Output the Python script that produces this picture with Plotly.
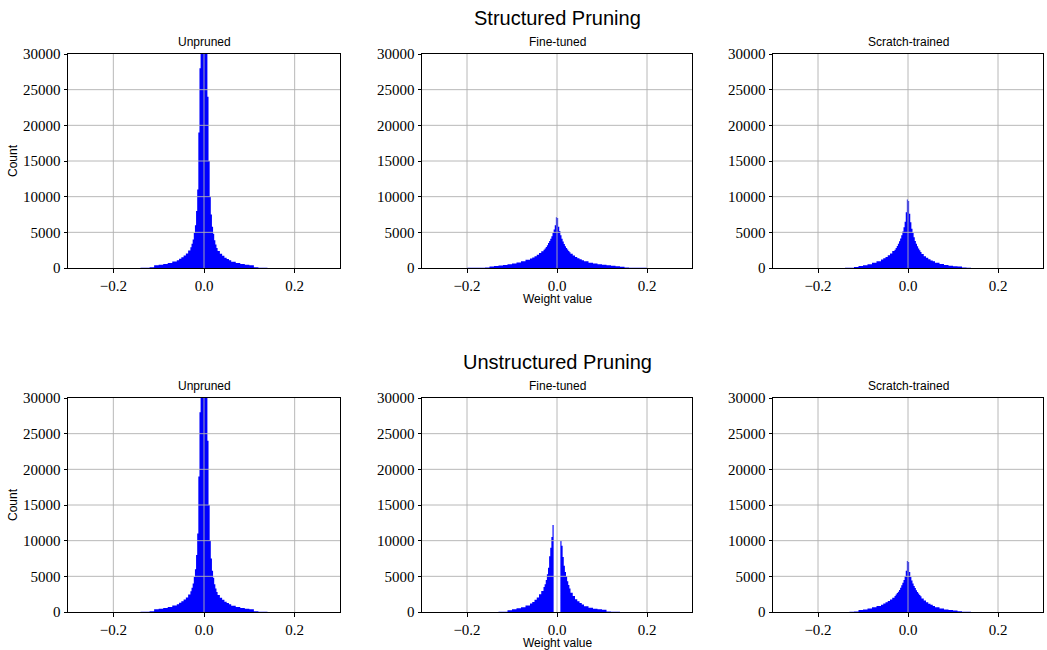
import plotly.graph_objects as go

# ---------------- data ----------------
bin_edges = [-0.26, -0.20, -0.16, -0.15, -0.14, -0.13, -0.12, -0.11, -0.10, -0.09,
             -0.08, -0.07, -0.06, -0.055, -0.05, -0.045, -0.04, -0.035, -0.03, -0.0275,
             -0.025, -0.0225, -0.02, -0.0175, -0.015, -0.0125, -0.01, -0.0075, -0.005, -0.0025,
             0.0,
             0.0025, 0.005, 0.0075, 0.01, 0.0125, 0.015, 0.0175, 0.02, 0.0225, 0.025,
             0.0275, 0.03, 0.035, 0.04, 0.045, 0.05, 0.055, 0.06, 0.07, 0.08,
             0.09, 0.10, 0.11, 0.12, 0.13, 0.14, 0.15, 0.16, 0.20, 0.26]

unpruned_counts = [3, 5, 8, 10, 20, 40, 110, 380, 460, 570, 710, 900, 1100, 1280, 1500,
                   1750, 2050, 2450, 2900, 3400, 4000, 4900, 6000, 8000, 11000, 19000, 28000, 40000, 50000, 60000,
                   60000, 50000, 38000, 24000, 15000, 10000, 7500, 5800, 4800, 3900, 3300, 2800, 2400, 2000, 1700,
                   1450, 1250, 1080, 880, 700, 560, 450, 370, 100, 40, 20, 10, 8, 5, 3]

struct_finetuned_counts = [10, 25, 60, 220, 280, 350, 430, 530, 640, 780, 950, 1150, 1330, 1480, 1650,
                           1850, 2100, 2350, 2550, 2750, 2950, 3200, 3500, 3800, 4100, 4450, 4900, 5400, 6000, 7100,
                           7000, 5800, 5200, 4600, 4100, 3700, 3350, 3050, 2800, 2600, 2400, 2200, 2000, 1750, 1550,
                           1380, 1230, 1100, 930, 750, 620, 520, 440, 370, 300, 240, 180, 60, 25, 10]

struct_scratch_counts = [2, 3, 5, 10, 20, 40, 150, 290, 390, 530, 720, 950, 1180, 1350, 1550,
                         1780, 2050, 2400, 2550, 2800, 3100, 3400, 3750, 4150, 4600, 5100, 5700, 6500, 7800, 9600,
                         9400, 7600, 6400, 5500, 4900, 4300, 3800, 3400, 3050, 2750, 2500, 2250, 1950, 1650, 1420,
                         1220, 1060, 930, 750, 560, 430, 330, 260, 200, 80, 30, 15, 8, 4, 2]

unstruct_finetuned_counts = [2, 4, 6, 8, 12, 25, 50, 250, 400, 530, 680, 900, 1180, 1400, 1700,
                             2050, 2500, 2950, 3500, 3900, 4500, 5300, 6200, 7800, 9000, 10500, 12200, 0, 0, 0,
                             0, 0, 0, 9950, 9300, 7700, 6500, 5600, 5000, 4300, 3800, 3300, 2700, 2250, 1800,
                             1500, 1250, 1050, 800, 600, 470, 380, 310, 80, 40, 20, 10, 6, 4, 2]

unstruct_scratch_counts = [2, 4, 6, 8, 15, 30, 60, 270, 360, 480, 650, 850, 1030, 1180, 1350,
                           1550, 1750, 2000, 2250, 2450, 2650, 2850, 3100, 3400, 3750, 4100, 4500, 5000, 5800, 7150,
                           7000, 5600, 4900, 4400, 4000, 3650, 3350, 3050, 2800, 2600, 2400, 2200, 1900, 1620, 1380,
                           1170, 1000, 850, 650, 480, 360, 280, 220, 120, 40, 20, 10, 8, 5, 3]

row_titles = ["Structured Pruning", "Unstructured Pruning"]
panel_titles = ["Unpruned", "Fine-tuned", "Scratch-trained"]
x_tick_vals = [-0.2, 0.0, 0.2]
x_tick_text = ["\u22120.2", "0.0", "0.2"]
y_tick_vals = [0, 5000, 10000, 15000, 20000, 25000, 30000]
y_tick_text = ["0", "5000", "10000", "15000", "20000", "25000", "30000"]

panels = [
    [unpruned_counts, struct_finetuned_counts, struct_scratch_counts],
    [unpruned_counts, unstruct_finetuned_counts, unstruct_scratch_counts],
]

# ---------------- layout geometry (pixels) ----------------
W, H = 1047, 650
col_px = [(68, 340), (422, 692), (773, 1043)]
row_px = [(54, 268), (398, 612)]

fig = go.Figure()
layout = dict(
    width=W, height=H,
    margin=dict(l=0, r=0, t=0, b=0),
    paper_bgcolor="white", plot_bgcolor="white",
    showlegend=False,
    font=dict(family="Liberation Sans", color="black"),
)
shapes = []
annotations = []
GRID = "#b0b0b0"
tick_font = dict(family="Liberation Serif", size=15, color="black")

k = 0
for r in range(2):
    for c in range(3):
        k += 1
        xa = "x" if k == 1 else f"x{k}"
        ya = "y" if k == 1 else f"y{k}"
        counts = panels[r][c]
        # histogram drawn as a filled step outline (bin edges -> counts)
        fig.add_trace(go.Scatter(
            x=bin_edges, y=counts + [counts[-1]],
            mode="lines", line=dict(shape="hv", width=0, color="#0000ff"),
            fill="tozeroy", fillcolor="#0000ff",
            xaxis=xa, yaxis=ya, hoverinfo="skip",
        ))
        x0, x1 = col_px[c]
        y0, y1 = row_px[r]
        layout["xaxis" if k == 1 else f"xaxis{k}"] = dict(
            domain=[x0 / W, x1 / W], anchor=ya, range=[-0.3, 0.3],
            tickmode="array", tickvals=x_tick_vals, ticktext=x_tick_text,
            ticks="outside", ticklen=3.5, tickwidth=0.8, tickcolor="black",
            showline=True, mirror=True, linecolor="black", linewidth=1,
            showgrid=False, zeroline=False, tickfont=tick_font, automargin=False,
        )
        layout["yaxis" if k == 1 else f"yaxis{k}"] = dict(
            domain=[1 - y1 / H, 1 - y0 / H], anchor=xa, range=[0, 30000],
            tickmode="array", tickvals=y_tick_vals, ticktext=y_tick_text,
            ticks="outside", ticklen=3.5, tickwidth=0.8, tickcolor="black",
            showline=True, mirror=True, linecolor="black", linewidth=1,
            showgrid=False, zeroline=False, tickfont=tick_font, automargin=False,
        )
        # grid lines drawn above the histogram (as in the reference)
        for tv in x_tick_vals:
            shapes.append(dict(type="line", xref=xa, yref=f"{ya} domain", x0=tv, x1=tv, y0=0, y1=1,
                               line=dict(color=GRID, width=0.9), layer="above"))
        for tv in y_tick_vals[1:-1]:
            shapes.append(dict(type="line", xref=f"{xa} domain", yref=ya, x0=0, x1=1, y0=tv, y1=tv,
                               line=dict(color=GRID, width=0.9), layer="above"))
        annotations.append(dict(text=panel_titles[c], x=(x0 + x1) / 2 / W, y=1 - (y0 - 4) / H,
                                xref="paper", yref="paper", xanchor="center", yanchor="bottom",
                                showarrow=False, borderpad=0, font=dict(size=12, family="Liberation Sans")))
    annotations.append(dict(text=row_titles[r], x=557 / W, y=1 - (row_px[r][0] - 36) / H,
                            xref="paper", yref="paper", xanchor="center", yanchor="middle",
                            showarrow=False, font=dict(size=20, family="Liberation Sans")))
    annotations.append(dict(text="Count", x=13 / W, y=1 - ((row_px[r][0] + row_px[r][1]) / 2) / H,
                            xref="paper", yref="paper", xanchor="center", yanchor="middle",
                            textangle=-90, showarrow=False, font=dict(size=12, family="Liberation Sans")))
    annotations.append(dict(text="Weight value", x=557 / W, y=1 - (row_px[r][1] + 31) / H,
                            xref="paper", yref="paper", xanchor="center", yanchor="middle",
                            showarrow=False, borderpad=0, font=dict(size=12, family="Liberation Sans")))

layout["shapes"] = shapes
layout["annotations"] = annotations
fig.update_layout(**layout)
fig.write_html("out.html", config={"displayModeBar": False},
               post_script="document.body.style.margin='0px';")
